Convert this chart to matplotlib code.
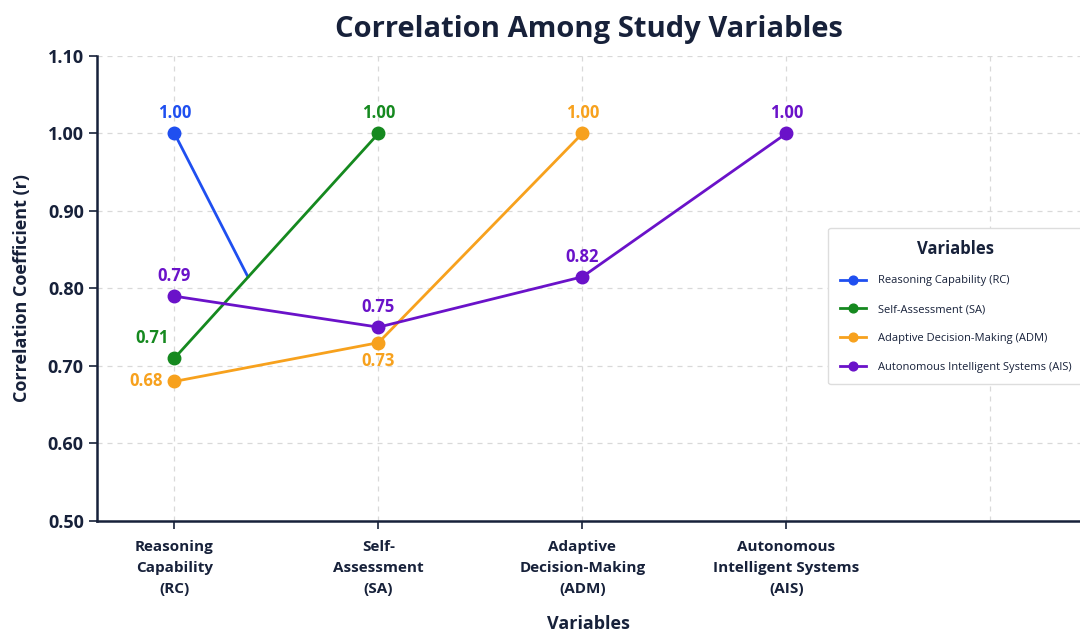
import matplotlib
matplotlib.use("Agg")
import matplotlib.pyplot as plt
import numpy as np

plt.rcParams['font.family'] = ['Open Sans', 'DejaVu Sans']

categories = ["Reasoning\nCapability\n(RC)", "Self-\nAssessment\n(SA)",
              "Adaptive\nDecision-Making\n(ADM)", "Autonomous\nIntelligent Systems\n(AIS)"]
series_names = ["Reasoning Capability (RC)", "Self-Assessment (SA)",
                "Adaptive Decision-Making (ADM)", "Autonomous Intelligent Systems (AIS)"]
colors = ["#1f4ff0", "#15891f", "#f7a11d", "#6a12c9"]

# RC line as drawn (segment that stops mid-way)
rc_x = [0, 0.36]
rc_y = [1.00, 0.815]
sa_vals = [0.71, 1.00]
adm_vals = [0.68, 0.73, 1.00]
ais_vals = [0.79, 0.75, 0.815, 1.00]

label_text = {
    "RC": ["1.00"],
    "SA": ["0.71", "1.00"],
    "ADM": ["0.68", "0.73", "1.00"],
    "AIS": ["0.79", "0.75", "0.82", "1.00"],
}

navy = "#17213a"

fig = plt.figure(figsize=(10.8, 6.36), dpi=100)
ax = fig.add_axes([0.0898, 0.181, 0.9102, 0.731])

lw = 2.0
ms = 9
ax.plot(rc_x, rc_y, color=colors[0], lw=lw, zorder=3)
ax.plot([0], rc_y[:1], 'o', color=colors[0], ms=ms, zorder=4)
h0, = ax.plot([], [], '-o', color=colors[0], lw=lw, ms=ms, label=series_names[0])
h1, = ax.plot(np.arange(len(sa_vals)), sa_vals, '-o', color=colors[1], lw=lw, ms=ms, zorder=3, label=series_names[1])
h2, = ax.plot(np.arange(len(adm_vals)), adm_vals, '-o', color=colors[2], lw=lw, ms=ms, zorder=3, label=series_names[2])
h3, = ax.plot(np.arange(len(ais_vals)), ais_vals, '-o', color=colors[3], lw=lw, ms=ms, zorder=3, label=series_names[3])

fs = 12
def lab(x, y, t, c, dx=0, dy=12, ha='center', va='bottom'):
    ax.annotate(t, (x, y), xytext=(dx, dy), textcoords='offset points',
                ha=ha, va=va, color=c, fontsize=fs, fontweight='bold')

lab(0, rc_y[0], label_text["RC"][0], colors[0], dy=8)
lab(0, sa_vals[0], label_text["SA"][0], colors[1], dx=-16, dy=8)
lab(1, sa_vals[1], label_text["SA"][1], colors[1], dy=8)
lab(0, adm_vals[0], label_text["ADM"][0], colors[2], dx=-8, dy=0, ha='right', va='center')
lab(1, adm_vals[1], label_text["ADM"][1], colors[2], dy=-7, va='top')
lab(2, adm_vals[2], label_text["ADM"][2], colors[2], dy=8)
lab(0, ais_vals[0], label_text["AIS"][0], colors[3], dy=8)
lab(1, ais_vals[1], label_text["AIS"][1], colors[3], dy=8)
lab(2, ais_vals[2], label_text["AIS"][2], colors[3], dy=8)
lab(3, ais_vals[3], label_text["AIS"][3], colors[3], dy=8)

ax.set_xlim(-0.38, 4.44)
ax.set_ylim(0.50, 1.10)
ax.set_yticks(np.arange(0.50, 1.101, 0.10))
ax.set_yticklabels([f"{v:.2f}" for v in np.arange(0.50, 1.101, 0.10)])
ax.set_xticks(range(len(categories)))
ax.set_xticklabels(categories, fontsize=11, fontweight='bold', color=navy, linespacing=1.6)
ax.set_xticks([4], minor=True)
ax.tick_params(axis='x', which='minor', length=0)
ax.tick_params(axis='y', labelsize=13, labelcolor=navy, color=navy, length=6, width=1.2)
ax.tick_params(axis='x', which='major', color=navy, length=6, width=1.2, pad=8)
for t in ax.get_yticklabels():
    t.set_fontweight('bold')

ax.grid(True, which='both', linestyle=(0, (4, 4)), color='#d9d9d9', lw=0.9, zorder=0)
ax.set_axisbelow(True)
for s in ['top', 'right']:
    ax.spines[s].set_visible(False)
for s in ['left', 'bottom']:
    ax.spines[s].set_color(navy)
    ax.spines[s].set_linewidth(1.8)

ax.set_ylabel("Correlation Coefficient (r)", fontsize=13, fontweight='bold', color=navy, labelpad=12)
ax.set_xlabel("Variables", fontsize=13, fontweight='bold', color=navy, labelpad=14)
ax.set_title("Correlation Among Study Variables", fontsize=21, fontweight='bold', color=navy, pad=14)

leg = ax.legend(handles=[h0, h1, h2, h3], title="Variables", loc='upper left',
                bbox_to_anchor=(0.744, 0.63), fontsize=8, title_fontproperties={'weight': 'bold', 'size': 12},
                frameon=True, fancybox=True, borderpad=1.05, labelspacing=1.6, handlelength=2.3,
                handletextpad=1.1, markerscale=0.7, borderaxespad=0,
                edgecolor='#dddddd', framealpha=1.0)
leg.get_title().set_color(navy)
for t in leg.get_texts():
    t.set_color(navy)

fig.savefig("out.png", dpi=100)
